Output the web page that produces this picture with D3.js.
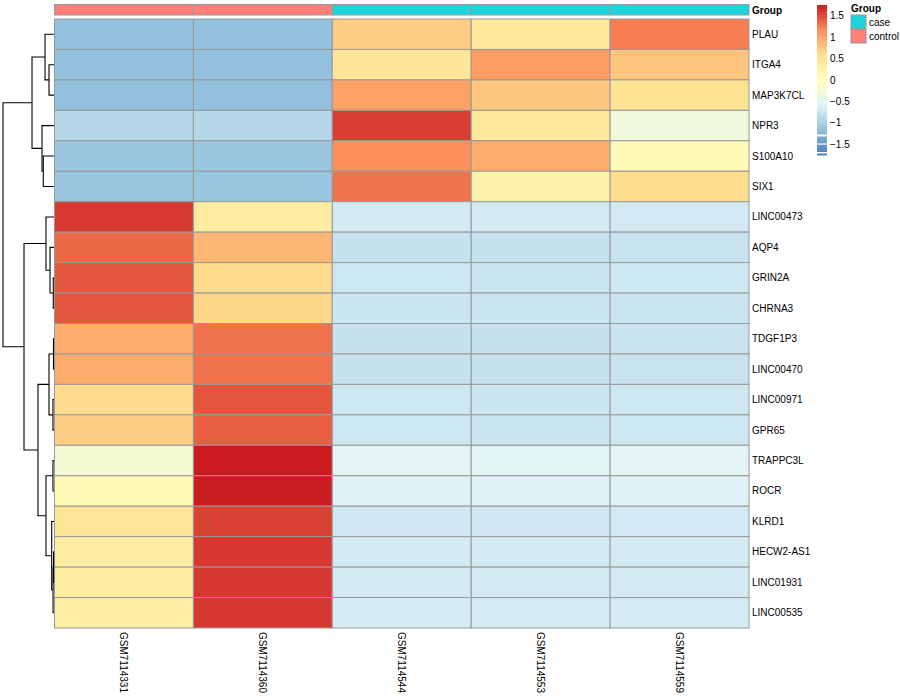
<!DOCTYPE html>
<html><head><meta charset="utf-8">
<script src="https://cdn.jsdelivr.net/npm/d3@7"></script>
<style>body{margin:0;background:#fff} text{font-family:"Liberation Sans",Arial,sans-serif}</style>
</head><body><svg id="c" width="900" height="700"></svg>
<script>
// ---------- data ----------
const genes = ["PLAU","ITGA4","MAP3K7CL","NPR3","S100A10","SIX1","LINC00473","AQP4","GRIN2A","CHRNA3",
  "TDGF1P3","LINC00470","LINC00971","GPR65","TRAPPC3L","ROCR","KLRD1","HECW2-AS1","LINC01931","LINC00535"];
const samples = ["GSM7114331","GSM7114360","GSM7114544","GSM7114553","GSM7114559"];
const sampleGroup = ["control","control","case","case","case"];
const groupLevels = ["case","control"];
const groupColors = ["#1FD3DA","#FF7F79"];
// row-scaled expression (z-scores), one array per gene, in sample order
const PLAU      = [-1.15,-1.15, 0.72, 0.42, 1.25];
const ITGA4     = [-1.15,-1.15, 0.48, 1.05, 0.77];
const MAP3K7CL  = [-1.15,-1.15, 1.02, 0.76, 0.52];
const NPR3      = [-0.90,-0.90, 1.57, 0.45,-0.30];
const S100A10   = [-1.10,-1.10, 1.15, 0.95, 0.10];
const SIX1      = [-1.10,-1.10, 1.30, 0.25, 0.60];
const LINC00473 = [ 1.59, 0.35,-0.68,-0.68,-0.69];
const AQP4      = [ 1.35, 0.88,-0.77,-0.77,-0.76];
const GRIN2A    = [ 1.45, 0.62,-0.72,-0.73,-0.72];
const CHRNA3    = [ 1.45, 0.65,-0.73,-0.73,-0.74];
const TDGF1P3   = [ 0.95, 1.30,-0.77,-0.77,-0.76];
const LINC00470 = [ 0.95, 1.30,-0.77,-0.77,-0.76];
const LINC00971 = [ 0.62, 1.45,-0.72,-0.73,-0.72];
const GPR65     = [ 0.72, 1.40,-0.72,-0.73,-0.72];
const TRAPPC3L  = [-0.20, 1.75,-0.53,-0.54,-0.53];
const ROCR      = [ 0.10, 1.74,-0.59,-0.59,-0.59];
const KLRD1     = [ 0.50, 1.55,-0.71,-0.71,-0.70];
const HECW2_AS1 = [ 0.36, 1.60,-0.68,-0.68,-0.68];
const LINC01931 = [ 0.36, 1.60,-0.68,-0.68,-0.68];
const LINC00535 = [ 0.32, 1.60,-0.66,-0.67,-0.67];
const values = [PLAU,ITGA4,MAP3K7CL,NPR3,S100A10,SIX1,LINC00473,AQP4,GRIN2A,CHRNA3,
  TDGF1P3,LINC00470,LINC00971,GPR65,TRAPPC3L,ROCR,KLRD1,HECW2_AS1,LINC01931,LINC00535];
const legendTicks = [-1.5,-1,-0.5,0,0.5,1,1.5];
const paletteStops = ["#4575B4","#91BFDB","#E0F3F8","#FFFFBF","#FEE090","#FC8D59","#C91B20"];
const colorLimit = 1.75;
// row dendrogram: [left, right, mergeHeight]
const rowTree = [
  [ [ "PLAU", ["ITGA4","MAP3K7CL",0.98], 1.76 ],
    [ "NPR3", ["S100A10","SIX1",2.10], 2.35 ], 4.31 ],
  [ [ "LINC00473", ["AQP4", ["GRIN2A","CHRNA3",0.14], 0.78], 1.57 ],
    [ [ ["TDGF1P3","LINC00470",0.10], ["LINC00971","GPR65",0.20], 0.98 ],
      [ ["TRAPPC3L","ROCR",0.20], ["KLRD1", [["HECW2-AS1","LINC01931",0.08],"LINC00535",0.18], 0.45], 1.57 ], 3.14 ],
    5.88 ],
  10.0 ];

// ---------- layout ----------
const svg = d3.select("#c");
const hx0 = 54.5, hx1 = 749, hy0 = 19, hy1 = 628;
const x = d3.scaleBand().domain(samples).range([hx0, hx1]);
const y = d3.scaleBand().domain(genes).range([hy0, hy1]);
const color = d3.scaleLinear()
  .domain(paletteStops.map((_, i) => -colorLimit + i * 2 * colorLimit / (paletteStops.length - 1)))
  .range(paletteStops).interpolate(d3.interpolateRgb).clamp(true);

// heatmap cells
const cells = [];
values.forEach((row, i) => row.forEach((v, j) => cells.push({g: genes[i], s: samples[j], v})));
svg.append("g").selectAll("rect").data(cells).join("rect")
  .attr("x", d => x(d.s)).attr("y", d => y(d.g))
  .attr("width", x.bandwidth()).attr("height", y.bandwidth())
  .attr("fill", d => color(d.v)).attr("stroke", "#999999").attr("stroke-width", 1);

// annotation bar
const annColor = d3.scaleOrdinal().domain(groupLevels).range(groupColors);
svg.append("g").selectAll("rect").data(samples).join("rect")
  .attr("x", d => x(d)).attr("y", 4.5).attr("width", x.bandwidth()).attr("height", 10.5)
  .attr("fill", (d, i) => annColor(sampleGroup[i])).attr("stroke", "#999999").attr("stroke-width", 1);
svg.append("text").attr("x", 752).attr("y", 13.5).attr("font-size", 10).attr("font-weight", "bold").text("Group");

// row labels
svg.append("g").selectAll("text").data(genes).join("text")
  .attr("x", 752).attr("y", d => y(d) + y.bandwidth() / 2).attr("dy", "0.35em")
  .attr("font-size", 10).text(d => d);

// column labels
svg.append("g").selectAll("text").data(samples).join("text")
  .attr("transform", d => `translate(${x(d) + x.bandwidth() / 2},632) rotate(90)`)
  .attr("dy", "0.35em").attr("font-size", 10).text(d => d);

// dendrogram
const treeX = d3.scaleLinear().domain([0, 10]).range([54, 3]);
const dg = svg.append("g").attr("fill", "none").attr("stroke", "#000").attr("stroke-width", 1.1);
function layout(node) {
  if (typeof node === "string") return {y: y(node) + y.bandwidth() / 2, h: 0};
  const a = layout(node[0]), b = layout(node[1]), h = node[2];
  const nx = treeX(h);
  dg.append("path").attr("d",
    `M${treeX(a.h)},${a.y}H${nx}V${b.y}H${treeX(b.h)}`);
  return {y: (a.y + b.y) / 2, h};
}
layout(rowTree);

// color legend
const ly = d3.scaleLinear().domain([-colorLimit, colorLimit]).range([155, 5]);
const lx = 817, lw = 10;
const nSteps = 100;
const steps = d3.range(nSteps).map(i => -colorLimit + (i + 0.5) * 2 * colorLimit / nSteps);
const stepH = (ly(-colorLimit) - ly(colorLimit)) / nSteps;
svg.append("g").selectAll("rect").data(steps).join("rect")
  .attr("x", lx).attr("width", lw)
  .attr("y", d => ly(d) - stepH / 2).attr("height", stepH + 0.4)
  .attr("fill", d => color(d));
// rendering gaps seen at the bottom of the original legend
svg.append("rect").attr("x", lx).attr("y", ly(-1.27)).attr("width", lw).attr("height", 2).attr("fill", "#fff");
svg.append("rect").attr("x", lx).attr("y", ly(-1.48)).attr("width", lw).attr("height", 1.2).attr("fill", "#fff");
svg.append("rect").attr("x", lx).attr("y", ly(-1.68)).attr("width", lw).attr("height", 1.5).attr("fill", "#fff");
svg.append("g").selectAll("text").data(legendTicks).join("text")
  .attr("x", 830).attr("y", d => ly(d)).attr("dy", "0.35em").attr("font-size", 10)
  .text(d => d3.format("")(d));

// group legend
svg.append("text").attr("x", 851).attr("y", 12).attr("font-size", 10).attr("font-weight", "bold").text("Group");
const gl = svg.append("g").selectAll("g").data(groupLevels).join("g")
  .attr("transform", (d, i) => `translate(851,${15 + i * 14})`);
gl.append("rect").attr("width", 15).attr("height", 14).attr("fill", d => annColor(d))
  .attr("stroke", "#999999").attr("stroke-width", 1);
gl.append("text").attr("x", 18).attr("y", 7).attr("dy", "0.35em").attr("font-size", 10).text(d => d);
</script></body></html>
